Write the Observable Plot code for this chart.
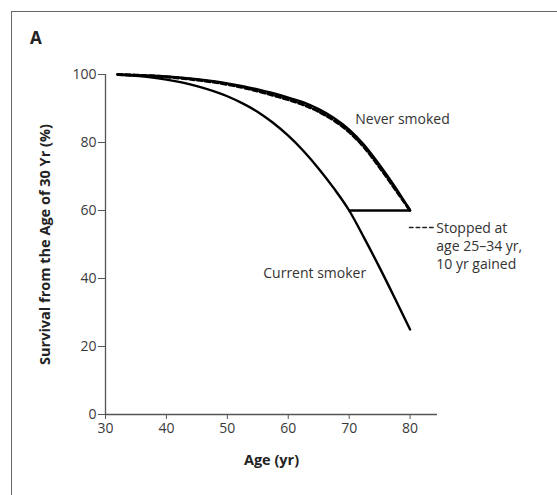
<!DOCTYPE html>
<html>
<head>
<meta charset="utf-8">
<script src="https://cdn.jsdelivr.net/npm/d3@7"></script>
<script src="https://cdn.jsdelivr.net/npm/@observablehq/plot@0.6"></script>
<style>
  html, body { margin: 0; padding: 0; background: #fff; overflow: hidden; }
  body { width: 557px; height: 495px; position: relative; font-family: "Open Sans", sans-serif; }
  #frame { position: absolute; left: 11px; top: 11px; width: 600px; height: 600px; border: 1.5px solid #666; box-sizing: border-box; }
  #panel { position: absolute; left: 30px; top: 26px; font-size: 17px; font-weight: bold; color: #222; }
  #chart { position: absolute; left: 0; top: 0; }
  g[aria-label="x-axis tick label"], g[aria-label="y-axis tick label"] { font-size: 14px; }
</style>
</head>
<body>
<div id="frame"></div>
<div id="chart"></div>
<div id="panel">A</div>
<script>
// Data
const ages = [32, 35, 40, 45, 50, 52.5, 55, 57.5, 60, 62.5, 65, 67.5, 70, 72.5, 75, 77.5, 80];
const neverSmoked   = [100, 99.8, 99.4, 98.6, 97.4, 96.6, 95.6, 94.5, 93.2, 91.8, 89.8, 87.2, 83.8, 79.2, 73.4, 67.0, 60.0];
const stopped25to34 = [100, 99.8, 99.3, 98.4, 97.1, 96.2, 95.1, 93.9, 92.6, 91.1, 89.1, 86.5, 83.1, 78.5, 72.7, 66.4, 60.0];
const currentSmoker = [100, 99.6, 98.5, 96.6, 93.6, 91.5, 89.0, 85.8, 82.0, 77.5, 72.3, 66.5, 60.0, 51.8, 43.2, 34.2, 25.0];
const gainedAges = [70, 80];
const gainedSurvival = [60, 60];
const xTicks = [30, 40, 50, 60, 70, 80];
const yTicks = [0, 20, 40, 60, 80, 100];
const labels = ["Never smoked", "Current smoker", "Stopped at\nage 25\u201334 yr,\n10 yr gained"];

const toRows = (ys) => ages.map((a, i) => ({age: a, s: ys[i]}));
const gained = gainedAges.map((a, i) => ({age: a, s: gainedSurvival[i]}));

const plot = Plot.plot({
  width: 557,
  height: 495,
  marginLeft: 105,
  marginRight: 120,
  marginTop: 74,
  marginBottom: 81,
  style: {fontFamily: "Open Sans, sans-serif", fontSize: "14px", background: "transparent", color: "#333"},
  x: {domain: [30, 84.5]},
  y: {domain: [0, 100]},
  marks: [
    Plot.axisX({ticks: xTicks, tickSize: 5, tickPadding: 4, fontSize: 14, label: null, stroke: "#555", color: "#3a3a3a"}),
    Plot.axisY({ticks: yTicks, tickSize: 7, tickPadding: 2, fontSize: 14, label: null, stroke: "#555", color: "#3a3a3a"}),
    Plot.ruleY([0], {x1: 30, x2: 84.5, stroke: "#555", strokeWidth: 1.3}),
    Plot.ruleX([30], {y1: 0, y2: 100, stroke: "#555", strokeWidth: 1.3}),
    Plot.line(toRows(neverSmoked), {x: "age", y: "s", curve: "monotone-x", stroke: "#000", strokeWidth: 2.4}),
    Plot.line(toRows(stopped25to34), {x: "age", y: "s", curve: "monotone-x", stroke: "#000", strokeWidth: 3, strokeDasharray: "5,3"}),
    Plot.line(toRows(currentSmoker), {x: "age", y: "s", curve: "monotone-x", stroke: "#000", strokeWidth: 2.4}),
    Plot.line(gained, {x: "age", y: "s", stroke: "#000", strokeWidth: 2.4, strokeDasharray: "1.4,1.2"}),
    // legend sample for the dashed series
    Plot.line([{age: 79.9, s: 55}, {age: 84.0, s: 55}], {x: "age", y: "s", stroke: "#222", strokeWidth: 1.6, strokeDasharray: "3.5,3.2"}),
    Plot.text([labels[0]], {x: 71, y: 86.8, text: d => d, textAnchor: "start", fontSize: 14, fill: "#333"}),
    Plot.text([labels[1]], {x: 55.9, y: 41.4, text: d => d, textAnchor: "start", fontSize: 14, fill: "#333"}),
    Plot.text([labels[2]], {x: 84.3, y: 49.8, text: d => d, textAnchor: "start", fontSize: 14, lineHeight: 1.28, fill: "#333"}),
    Plot.text(["Survival from the Age of 30 Yr (%)"], {frameAnchor: "left", dx: -60, rotate: -90, textAnchor: "middle", text: d => d, fontSize: 14.5, fontWeight: "bold", fill: "#222"}),
    Plot.text(["Age (yr)"], {frameAnchor: "bottom", dy: 50, text: d => d, fontSize: 14.5, fontWeight: "bold", fill: "#222"})
  ]
});
d3.select(plot).selectAll('g[aria-label="x-axis tick label"], g[aria-label="y-axis tick label"]').attr("font-size", 14);
document.getElementById("chart").appendChild(plot);
</script>
</body>
</html>
